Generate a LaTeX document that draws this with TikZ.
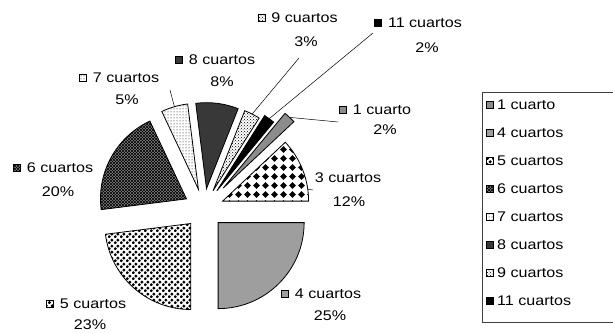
\documentclass[tikz,border=0pt]{standalone}
\usepackage{fontspec}
\setmainfont{Liberation Sans}[FakeStretch=1.15]
\usetikzlibrary{patterns,positioning}

% Slice fills
\pgfdeclarepatternformonly{bigdiamonds}{\pgfqpoint{-1pt}{-1pt}}{\pgfqpoint{10pt}{10pt}}{\pgfqpoint{9pt}{9pt}}{
  \pgfpathmoveto{\pgfqpoint{4.5pt}{1.2pt}}
  \pgfpathlineto{\pgfqpoint{7.8pt}{4.5pt}}
  \pgfpathlineto{\pgfqpoint{4.5pt}{7.8pt}}
  \pgfpathlineto{\pgfqpoint{1.2pt}{4.5pt}}
  \pgfpathclose
  \pgfusepath{fill}}
\pgfdeclarepatternformonly{checkdots}{\pgfqpoint{0pt}{0pt}}{\pgfqpoint{6pt}{6pt}}{\pgfqpoint{6pt}{6pt}}{
  \pgfpathcircle{\pgfqpoint{1.5pt}{1.5pt}}{1.85pt}
  \pgfpathcircle{\pgfqpoint{4.5pt}{4.5pt}}{1.85pt}
  \pgfusepath{fill}}
\pgfdeclarepatternformonly{finecross}{\pgfqpoint{-0.5pt}{-0.5pt}}{\pgfqpoint{3.5pt}{3.5pt}}{\pgfqpoint{3pt}{3pt}}{
  \pgfsetlinewidth{0.6pt}
  \pgfpathmoveto{\pgfqpoint{0pt}{0pt}}\pgfpathlineto{\pgfqpoint{3pt}{3pt}}
  \pgfpathmoveto{\pgfqpoint{0pt}{3pt}}\pgfpathlineto{\pgfqpoint{3pt}{0pt}}
  \pgfusepath{stroke}}

\begin{document}
\begin{tikzpicture}[
        x=1pt, y=1pt,
        pieslice/.style={draw=black, line width=0.8pt},
        lbl/.style={inner sep=0pt, font=\fontsize{14}{16}\selectfont},
        key/.style={draw=black, line width=0.6pt, minimum size=7pt, inner sep=0pt},
        leader/.style={draw=black, line width=0.5pt},
        sl1/.style={fill=black!45},
        sl3/.style={pattern=bigdiamonds},
        sl4/.style={fill=black!38},
        sl5/.style={pattern=checkdots},
        sl6/.style={preaction={fill=black!45}, pattern=finecross},
        sl7/.style={pattern=dots},
        sl8/.style={fill=black!78},
        sl9/.style={pattern=crosshatch dots},
        sl11/.style={fill=black}
    ]

    \useasboundingbox (0,0) rectangle (613,334);
    \fill[white] (0,0) rectangle (613,334);

    % Pie slices
    \begin{scope}[shift={(204,125.5)}]
        \foreach \angA/\angB/\ex/\rad/\sty/\nm in {0/43.2/20/86/sl3/3, 43.2/50.4/28/97/sl1/1,
                50.4/57.6/22/89/sl11/11, 57.6/68.4/20/86/sl9/9, 68.4/97.2/20/86/sl8/8,
                97.2/115.2/20/86/sl7/7, 115.2/187.2/20/86/sl6/6, 187.2/270/20/86/sl5/5,
                270/360/20/86/sl4/4}{
            \pgfmathsetmacro\angM{(\angA+\angB)/2}
            \path[pieslice,\sty] (\angM:\ex) coordinate (c\nm) -- ++(\angA:\rad)
                arc[start angle=\angA, end angle=\angB, radius=\rad] -- cycle;
            \path (c\nm) ++(\angM:\rad) coordinate (t\nm);
        }
        \path (c3) ++(8:86) coordinate (t3);
    \end{scope}

    % Leader lines
    \coordinate (e9) at (299,276);
    \coordinate (e11) at (373,301);
    \coordinate (e1) at (338,212);
    \coordinate (e7) at (170,244);
    \coordinate (e3) at (313,144);
    \draw[leader] (t9) -- (e9);
    \draw[leader] (t11) -- (e11);
    \draw[leader] (t1) -- (e1);
    \draw[leader] (t7) -- (e7);
    \draw[leader] (t3) -- (e3);

    % Slice labels
    \node[lbl] (n9) at (304.5,316) {9 cuartos};
    \node[key, sl9, left=6pt of n9] (k9) {};
    \node[lbl] (p9) at (306,292) {3\%};

    \node[lbl] (n11) at (425,311) {11 cuartos};
    \node[key, sl11, left=6pt of n11] (k11) {};
    \node[lbl] (p11) at (427,286) {2\%};

    \node[lbl] (n8) at (222,274) {8 cuartos};
    \node[key, sl8, left=6pt of n8] (k8) {};
    \node[lbl] (p8) at (222,252) {8\%};

    \node[lbl] (n1) at (382,224) {1 cuarto};
    \node[key, sl1, left=6pt of n1] (k1) {};
    \node[lbl] (p1) at (385,204) {2\%};

    \node[lbl] (n7) at (126,256) {7 cuartos};
    \node[key, sl7, left=6pt of n7] (k7) {};
    \node[lbl] (p7) at (127,234) {5\%};

    \node[lbl] (n6) at (60,166) {6 cuartos};
    \node[key, sl6, left=6pt of n6] (k6) {};
    \node[lbl] (p6) at (58,142) {20\%};

    \node[lbl] (n3) at (348,156) {3 cuartos};
    \node[lbl] (p3) at (349,132) {12\%};

    \node[lbl] (n4) at (328,40) {4 cuartos};
    \node[key, sl4, left=6pt of n4] (k4) {};
    \node[lbl] (p4) at (330,18) {25\%};

    \node[lbl] (n5) at (93,30) {5 cuartos};
    \node[key, sl5, left=6pt of n5] (k5) {};
    \node[lbl] (p5) at (90,9) {23\%};

    % Legend
    \draw[line width=0.5pt, black!75] (482,242) rectangle (618,12);
    \foreach \nm/\txt [count=\i] in {1/1 cuarto, 4/4 cuartos, 5/5 cuartos, 6/6 cuartos,
            7/7 cuartos, 8/8 cuartos, 9/9 cuartos, 11/11 cuartos}{
        \node[key, sl\nm] (lk\nm) at (490,{257-28*\i}) {};
        \node[lbl, anchor=west] (lt\nm) at (497,{257-28*\i}) {\txt};
    }

\end{tikzpicture}
\end{document}
